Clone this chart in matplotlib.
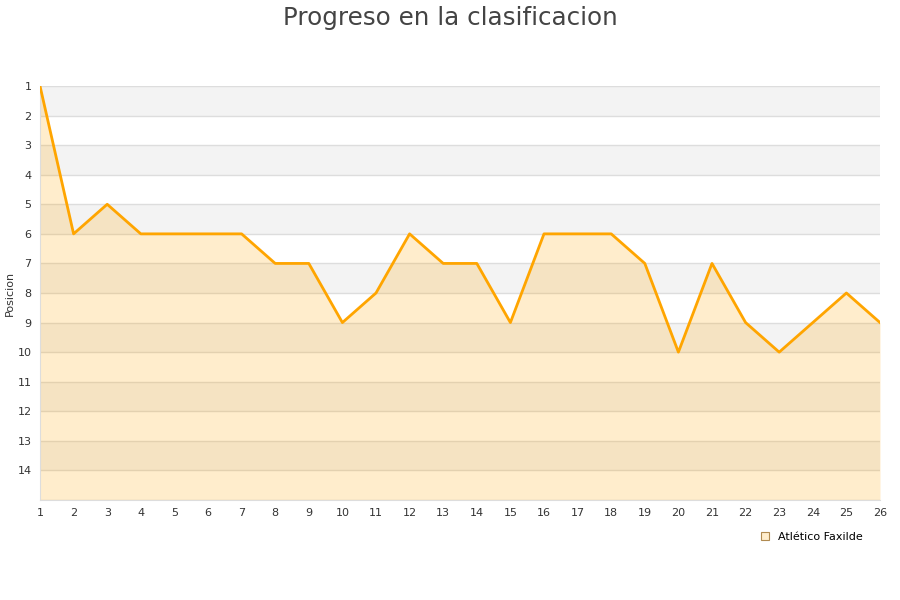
import numpy as np
import matplotlib.pyplot as plt
from matplotlib.patches import Patch

# DATA
jornadas = list(range(1, 27))
posicion = [1, 6, 5, 6, 6, 6, 6, 7, 7, 9, 8, 6, 7, 7, 9, 6, 6, 6, 7, 10, 7, 9, 10, 9, 8, 9]
equipo = 'Atlético Faxilde'
y_ticks = list(range(1, 15))

fig = plt.figure(figsize=(9, 6), dpi=100)
ax = fig.add_axes([40 / 900, 100 / 600, 840 / 900, 414 / 600])

# alternating bands
for k in range(1, 15, 2):
    ax.axhspan(k, k + 1, color='#f3f3f3', lw=0, zorder=0)
for k in range(1, 16):
    ax.axhline(k, color='#dddddd', lw=1, zorder=1)

ax.fill_between(jornadas, posicion, 15, color='#ffa500', alpha=0.2, lw=0, zorder=2)
ax.plot(jornadas, posicion, color='#ffa500', lw=2, zorder=3)

ax.set_xlim(1, 26)
ax.set_ylim(15, 1)
ax.set_xticks(jornadas)
ax.set_yticks(y_ticks)
ax.tick_params(length=0, labelsize=8, colors='#333333', pad=6)
ax.tick_params(axis='y', pad=6)
for s in ['top', 'right']:
    ax.spines[s].set_visible(False)
for s in ['left', 'bottom']:
    ax.spines[s].set_color('#dddddd')
ax.set_ylabel('Posicion', fontsize=8, color='#333333')
ax.yaxis.set_label_coords(-25 / 840, 0.5)

fig.suptitle('Progreso en la clasificacion', fontsize=17.7, color='#444444', y=0.99)

h = Patch(facecolor='#ffedcc', edgecolor='#b08a50', lw=0.8)
fig.legend([h], [equipo], loc='center', bbox_to_anchor=(812 / 900, 1 - 537 / 600),
           frameon=False, fontsize=8, handlelength=0.7, handleheight=0.7)

fig.savefig('out.png')
